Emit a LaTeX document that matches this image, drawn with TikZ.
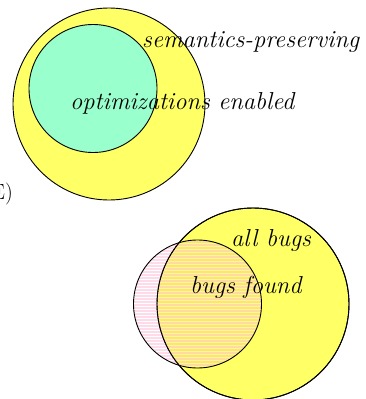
\documentclass[tikz,border=0pt]{standalone}
\usetikzlibrary{calc}
\definecolor{vyellow}{RGB}{255,255,102}
\definecolor{vgreen}{RGB}{153,255,204}
\definecolor{vpink}{RGB}{255,190,215}
\tikzset{
  setcircle/.style={draw=black, line width=0.9pt},
  lbl/.style={font=\fontsize{24.5}{28}\selectfont\itshape, inner sep=0pt, anchor=base west},
}
\begin{document}
\begin{tikzpicture}[x=1pt,y=-1pt]
\useasboundingbox (0,0) rectangle (365,399);
% top diagram
\node[setcircle, circle, fill=vyellow, minimum size=192pt, inner sep=0pt] (sem) at (109,104) {};
\node[setcircle, circle, fill=vgreen, minimum size=128pt, inner sep=0pt] (opt) at (93,88.5) {};
\node[lbl] (semlbl) at (142,47) {semantics-preserving};
\node[lbl] (optlbl) at (70,109) {optimizations enabled};
\node[font=\fontsize{22}{24}\selectfont, inner sep=0pt, anchor=base east] (elbl) at (13,199) {E)};
% bottom diagram
\node[setcircle, circle, fill=vyellow, minimum size=192pt, inner sep=0pt] (all) at (253,304) {};
\begin{scope}
  \clip (197.5,304) circle (64pt);
  \foreach \yy in {238,241,...,370} {
    \fill[vpink, opacity=0.55] (130,\yy) rectangle (265,\yy+1.6);
  }
\end{scope}
\node[setcircle, circle, minimum size=128pt, inner sep=0pt] (found) at (197.5,304) {};
\draw[line width=0.9pt] (all) circle (96pt);
\node[lbl] (alllbl) at (231,246) {all bugs};
\node[lbl] (foundlbl) at (190,293) {bugs found};
\end{tikzpicture}
\end{document}
